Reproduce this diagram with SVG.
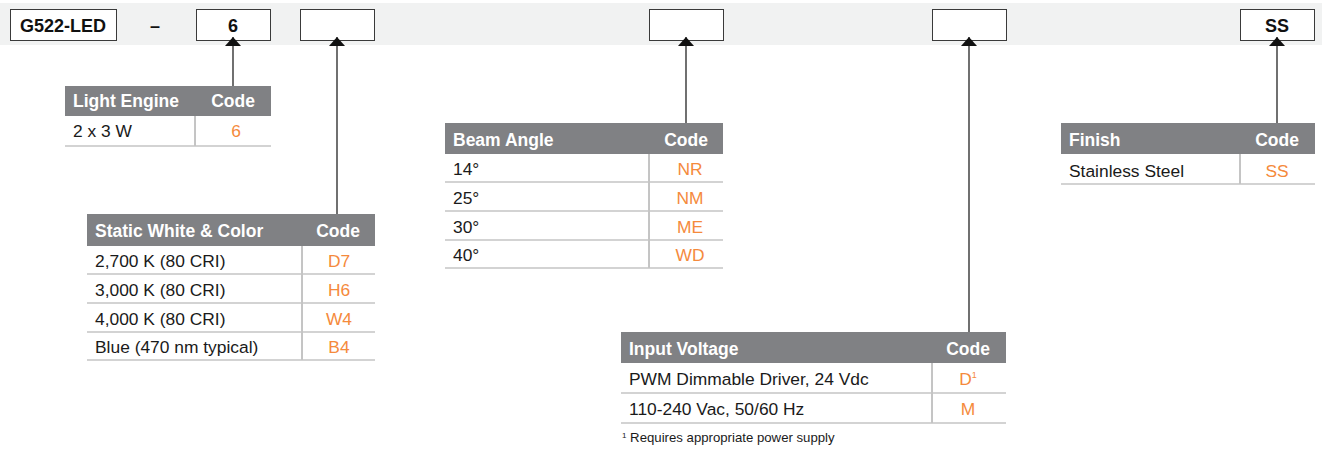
<svg xmlns="http://www.w3.org/2000/svg" width="1322" height="451" viewBox="0 0 1322 451">
<defs>
<style>
text{font-family:"Liberation Sans",Arial,sans-serif;}
.box{fill:#fff;stroke:#3a3a3a;stroke-width:1}
.bt{font-size:18px;font-weight:bold;fill:#111;text-anchor:middle}
.hd{fill:#808184}
.ht{font-size:17.5px;font-weight:bold;fill:#fff}
.hc{font-size:17.5px;font-weight:bold;fill:#fff;text-anchor:middle}
.rt{font-size:17.4px;fill:#1a1a1a}
.rc{font-size:17.4px;fill:#f58a3c;text-anchor:middle}
.rl{stroke:#c4c4c4;stroke-width:1.5}
.dv{stroke:#8a8a8a;stroke-width:1}
.cn{stroke:#111;stroke-width:1.2;fill:none}
</style>
<marker id="ah" viewBox="0 0 9 16" refX="9" refY="8" markerWidth="9" markerHeight="16" markerUnits="userSpaceOnUse" orient="auto">
<path d="M0 0 L9 8 L0 16 Z" fill="#111"/>
</marker>
</defs>
<rect x="0" y="3" width="1322" height="42" fill="#f1f2f2"/>

<g id="code-bar">
<rect class="box" x="10.5" y="9.5" width="106" height="31"/>
<text class="bt" x="63" y="31.5">G522-LED</text>
<text class="bt" x="155" y="31.5">–</text>
<rect class="box" x="196.5" y="9.5" width="74" height="31"/>
<text class="bt" x="233" y="31.5">6</text>
<rect class="box" x="300.5" y="9.5" width="74" height="31"/>
<rect class="box" x="649.5" y="9.5" width="74" height="31"/>
<rect class="box" x="932.5" y="9.5" width="74" height="31"/>
<rect class="box" x="1240.5" y="9.5" width="74" height="31"/>
<text class="bt" x="1277" y="31.5">SS</text>
</g>

<g id="connectors">
<line class="cn" x1="233" y1="86" x2="233" y2="37" marker-end="url(#ah)"/>
<line class="cn" x1="337" y1="214" x2="337" y2="37" marker-end="url(#ah)"/>
<line class="cn" x1="686" y1="123" x2="686" y2="37" marker-end="url(#ah)"/>
<line class="cn" x1="969" y1="332" x2="969" y2="37" marker-end="url(#ah)"/>
<line class="cn" x1="1277" y1="123" x2="1277" y2="37" marker-end="url(#ah)"/>
</g>

<g id="light-engine">
<rect class="hd" x="65" y="86" width="206" height="30"/>
<text class="ht" x="73" y="107">Light Engine</text>
<text class="hc" x="233" y="107">Code</text>
<line class="dv" x1="195" y1="116" x2="195" y2="146"/>
<text class="rt" x="73" y="137">2 x 3 W</text>
<text class="rc" x="236" y="137">6</text>
<line class="rl" x1="65" y1="146" x2="271" y2="146"/>
</g>

<g id="static-white">
<rect class="hd" x="87" y="214" width="288" height="32"/>
<text class="ht" x="95" y="237">Static White &amp; Color</text>
<text class="hc" x="338" y="237">Code</text>
<line class="dv" x1="302" y1="246" x2="302" y2="360"/>
<text class="rt" x="95" y="267">2,700 K (80 CRI)</text>
<text class="rc" x="339" y="267">D7</text>
<line class="rl" x1="87" y1="274" x2="375" y2="274"/>
<text class="rt" x="95" y="296">3,000 K (80 CRI)</text>
<text class="rc" x="339" y="296">H6</text>
<line class="rl" x1="87" y1="303" x2="375" y2="303"/>
<text class="rt" x="95" y="325">4,000 K (80 CRI)</text>
<text class="rc" x="339" y="325">W4</text>
<line class="rl" x1="87" y1="332" x2="375" y2="332"/>
<text class="rt" x="95" y="353">Blue (470 nm typical)</text>
<text class="rc" x="339" y="353">B4</text>
<line class="rl" x1="87" y1="360" x2="375" y2="360"/>
</g>

<g id="beam-angle">
<rect class="hd" x="445" y="123" width="278" height="31"/>
<text class="ht" x="453" y="146">Beam Angle</text>
<text class="hc" x="686" y="146">Code</text>
<line class="dv" x1="649" y1="154" x2="649" y2="268"/>
<text class="rt" x="453" y="175">14°</text>
<text class="rc" x="690" y="175">NR</text>
<line class="rl" x1="445" y1="182" x2="723" y2="182"/>
<text class="rt" x="453" y="204">25°</text>
<text class="rc" x="690" y="204">NM</text>
<line class="rl" x1="445" y1="211" x2="723" y2="211"/>
<text class="rt" x="453" y="233">30°</text>
<text class="rc" x="690" y="233">ME</text>
<line class="rl" x1="445" y1="240" x2="723" y2="240"/>
<text class="rt" x="453" y="261">40°</text>
<text class="rc" x="690" y="261">WD</text>
<line class="rl" x1="445" y1="268" x2="723" y2="268"/>
</g>

<g id="input-voltage">
<rect class="hd" x="621" y="332" width="385" height="31"/>
<text class="ht" x="629" y="355">Input Voltage</text>
<text class="hc" x="968" y="355">Code</text>
<line class="dv" x1="932" y1="363" x2="932" y2="423"/>
<text class="rt" x="629" y="385">PWM Dimmable Driver, 24 Vdc</text>
<text class="rc" x="968" y="385">D<tspan font-size="9" dy="-7">1</tspan></text>
<line class="rl" x1="621" y1="393" x2="1006" y2="393"/>
<text class="rt" x="629" y="415">110-240 Vac, 50/60 Hz</text>
<text class="rc" x="968" y="415">M</text>
<line class="rl" x1="621" y1="423" x2="1006" y2="423"/>
<text x="622" y="442" font-size="13.2" fill="#1a1a1a"><tspan font-size="8" dy="-4">1</tspan><tspan dy="4"> Requires appropriate power supply</tspan></text>
</g>

<g id="finish">
<rect class="hd" x="1061" y="123" width="254" height="31"/>
<text class="ht" x="1069" y="146">Finish</text>
<text class="hc" x="1277" y="146">Code</text>
<line class="dv" x1="1240" y1="154" x2="1240" y2="184"/>
<text class="rt" x="1069" y="177">Stainless Steel</text>
<text class="rc" x="1277" y="177">SS</text>
<line class="rl" x1="1061" y1="184" x2="1315" y2="184"/>
</g>
</svg>
